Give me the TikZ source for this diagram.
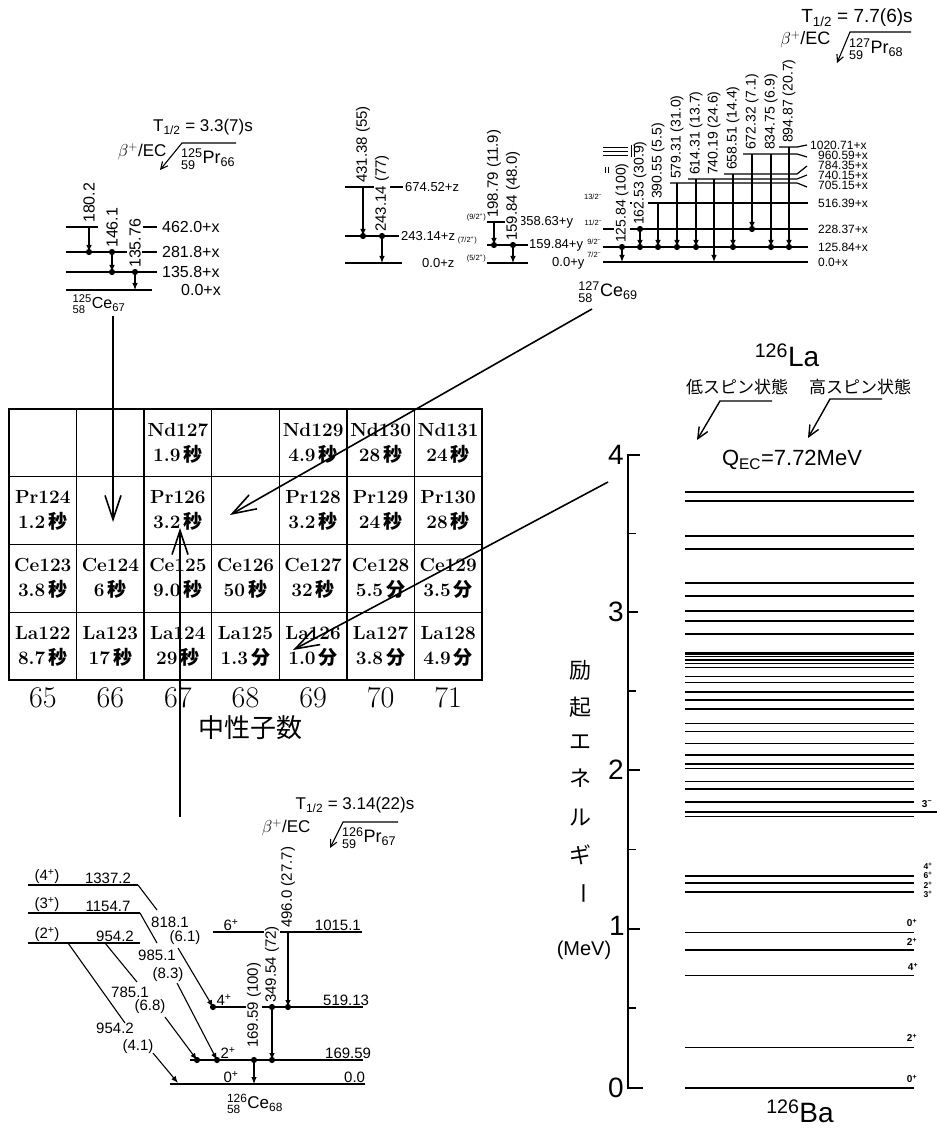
\documentclass[tikz,border=0pt]{standalone}
\usepackage{amsmath}
\usepackage{graphicx}
\usepackage{fontspec}
\usetikzlibrary{arrows.meta}
\newfontfamily\lsans{Liberation Sans}
\newfontfamily\jp{Noto Sans CJK JP}
\newcommand{\fs}[1]{\fontsize{#1}{#1}\selectfont}
\newcommand{\iso}[4]{$^{\text{#1}}_{\text{#2}}$#3$_{\text{#4}}$}
\newcommand{\byo}{{\jp 秒}}
\newcommand{\fun}{{\jp 分}}
\tikzset{
  lev/.style={line width=1.2pt},
  tr/.style={line width=1.1pt,-{Latex[length=7pt,width=5.5pt]}},
  pl/.style={line width=1.1pt},
  vlab/.style={rotate=90,anchor=west,fill=white,inner sep=1pt},
  bigarr/.style={line width=1.6pt,-{Straight Barb[length=24pt,width=16pt]}},
  hdarr/.style={line width=1.1pt,-{Straight Barb[length=7pt,width=7pt]}},
  laarr/.style={line width=1.4pt,-{Straight Barb[length=11pt,width=10pt]}},
  cell/.style={draw,line width=1.3pt,minimum width=67.57pt,minimum height=67.75pt,inner sep=0pt,align=center,font={\fontsize{19}{25}\selectfont\bfseries}},
  balev/.style={line width=1.5pt},
  bathick/.style={line width=2.6pt},
  spin/.style={font=\lsans\bfseries\fs{10},inner sep=0.5pt},
  spins/.style={font=\lsans\bfseries\fs{8.5},inner sep=0pt},
  rlab/.style={anchor=west,inner sep=0pt,font=\lsans\fs{12}},
}
\begin{document}
\begin{tikzpicture}[x=1pt,y=-1pt]
\useasboundingbox (0,0) rectangle (938,1131);
\fill[white] (0,0) rectangle (938,1131);

%================ 125Ce scheme =================
\node[font=\lsans\fs{17}] (h125t) at (203,127) {T$_{\text{1/2}}$ = 3.3(7)s};
\node[font=\lsans\fs{17},anchor=east] (h125b) at (170,152) {$\beta^{+}$/EC};
\coordinate (h125e) at (236,143); \coordinate (h125c) at (182,143); \coordinate (h125tip) at (160,170);
\draw[hdarr] (h125e) -- (h125c) -- (h125tip);
\node[font=\lsans\fs{18},anchor=west,inner sep=0pt] (h125p) at (181,159) {\iso{125}{59}{Pr}{66}};
\begin{scope}[font=\lsans\fs{16}]
\draw[lev] (66,227) -- (98,227) (143,227) -- (157,227);
\draw[lev] (66,252) -- (127,252) (142,252) -- (157,252);
\draw[lev] (66,272) -- (157,272);
\draw[lev] (66,290) -- (152,290);
\node[anchor=west,inner sep=1pt] (c125a) at (161,227) {462.0+x};
\node[anchor=west,inner sep=1pt] (c125b) at (161,252) {281.8+x};
\node[anchor=west,inner sep=1pt] (c125c) at (161,272) {135.8+x};
\node[anchor=west,inner sep=1pt] (c125d) at (180,290) {0.0+x};
\draw[tr] (89,227) -- (89,252);
\draw[tr] (112,252) -- (112,272);
\draw[tr] (135,272) -- (135,290);
\fill (89,252) circle (3.1pt) (112,252) circle (3.1pt) (112,272) circle (3.1pt) (135,272) circle (3.1pt);
\node[vlab] (g1802) at (89,224) {180.2};
\node[vlab] (g1461) at (112,249) {146.1};
\node[vlab] (g1357) at (135,269) {135.76};
\node[inner sep=0pt] (ce125) at (99,304) {\iso{125}{58}{Ce}{67}};
\end{scope}

%================ 127Ce scheme (z and y) =================
\begin{scope}[font=\lsans\fs{13}]
\draw[lev] (345,187) -- (403,187);
\draw[lev] (345,236) -- (399,236);
\draw[lev] (345,263) -- (402,263);
\node[anchor=west,inner sep=1pt] (z674) at (404,187) {674.52+z};
\node[anchor=west,inner sep=1pt] (z243) at (400,236) {243.14+z};
\node[anchor=west,inner sep=1pt] (z0) at (421,263) {0.0+z};
\draw[tr] (363,187) -- (363,236);
\draw[tr] (382,236) -- (382,263);
\fill (363,236) circle (3.1pt) (382,236) circle (3.1pt);
\node[vlab,font=\lsans\fs{15}] (g431) at (363,184) {431.38 (55)};
\node[vlab,font=\lsans\fs{15}] (g243) at (382,233) {243.14 (77)};
\draw[lev] (487,222) -- (518,222);
\draw[lev] (487,245) -- (528,245);
\draw[lev] (487,263) -- (528,263);
\node[anchor=west,inner sep=1pt] (y358) at (518,222) {358.63+y};
\node[anchor=west,inner sep=1pt] (y159) at (528,245) {159.84+y};
\node[anchor=west,inner sep=1pt] (y0) at (551,263) {0.0+y};
\node[anchor=east,font=\lsans\fs{7.5},inner sep=1pt] (s92) at (487,217) {(9/2\textsuperscript{+})};
\node[anchor=east,font=\lsans\fs{7.5},inner sep=1pt] (s72) at (478,240) {(7/2\textsuperscript{+})};
\node[anchor=east,font=\lsans\fs{7.5},inner sep=1pt] (s52) at (487,258) {(5/2\textsuperscript{+})};
\draw[tr] (494,222) -- (494,245);
\draw[tr] (513,245) -- (513,263);
\fill (494,245) circle (3.1pt) (513,245) circle (3.1pt);
\node[vlab,font=\lsans\fs{15}] (g198) at (494,219) {198.79 (11.9)};
\node[vlab,font=\lsans\fs{15}] (g159) at (513,242) {159.84 (48.0)};
\end{scope}

%================ 127Ce scheme (x) =================
\node[font=\lsans\fs{19}] (h127t) at (857,18) {T$_{\text{1/2}}$ = 7.7(6)s};
\node[font=\lsans\fs{18},anchor=east] (h127b) at (834,40) {$\beta^{+}$/EC};
\coordinate (h127e) at (911,32); \coordinate (h127c) at (850,32); \coordinate (h127tip) at (837,63);
\draw[hdarr] (h127e) -- (h127c) -- (h127tip);
\node[font=\lsans\fs{18},anchor=west,inner sep=0pt] (h127p) at (849,49) {\iso{127}{59}{Pr}{68}};
\begin{scope}[font=\lsans\fs{13}]
\draw[lev] (603,262) -- (808,262);
\draw[lev] (603,247) -- (808,247);
\draw[lev] (603,229) -- (808,229);
\draw[lev] (625,203) -- (808,203);
\draw[lev] (670,183) -- (797,183) -- (807,187);
\draw[lev] (688,179) -- (797,179) -- (807,175);
\draw[lev] (724,174) -- (797,174) -- (807,166);
\draw[lev] (743,154) -- (797,154) -- (807,157);
\draw[lev] (778,147) -- (797,147) -- (807,145);
\node[rlab] (x0) at (818,262) {0.0+x};
\node[rlab] (x125) at (818,247) {125.84+x};
\node[rlab] (x228) at (818,229) {228.37+x};
\node[rlab] (x516) at (818,203) {516.39+x};
\node[rlab] (x705) at (818,185) {705.15+x};
\node[rlab] (x740) at (818,175) {740.15+x};
\node[rlab] (x784) at (818,165) {784.35+x};
\node[rlab] (x960) at (818,155) {960.59+x};
\node[rlab] (x1020) at (810,145) {1020.71+x};
\foreach \x/\ya/\yb in {622/247/262, 640/229/247, 658/203/247, 677/183/247, 696/179/247, 714/179/262, 733/174/247, 752/154/229, 771/154/247, 789/147/247}
  \draw[tr] (\x,\ya) -- (\x,\yb);
\foreach \p in {(622,247),(640,229),(640,247),(658,247),(677,247),(696,247),(733,247),(752,229),(771,247),(789,247)}
  \fill \p circle (3.1pt);
\foreach \x/\y/\t [count=\i] in {622/244/{125.84 (100)}, 640/226/{162.53 (30.9)}, 658/200/{390.55 (5.5)}, 677/180/{579.31 (31.0)}, 696/176/{614.31 (13.7)}, 714/176/{740.19 (24.6)}, 733/171/{658.51 (14.4)}, 752/151/{672.32 (7.1)}, 771/151/{834.75 (6.9)}, 789/144/{894.87 (20.7)}}
  \node[vlab,font=\lsans\fs{14}] (xg\i) at (\x,\y) {\t};
\node[anchor=east,font=\lsans\fs{7.5},inner sep=0.5pt] (s132) at (603,197) {13/2\textsuperscript{−}};
\node[anchor=east,font=\lsans\fs{7.5},inner sep=0.5pt] (s112) at (603,223) {11/2\textsuperscript{−}};
\node[anchor=east,font=\lsans\fs{7.5},inner sep=0.5pt] (s92m) at (602,242) {9/2\textsuperscript{−}};
\node[anchor=east,font=\lsans\fs{7.5},inner sep=0.5pt] (s72m) at (602,255) {7/2\textsuperscript{−}};
\draw[line width=0.9pt] (603,147.5) -- (628,147.5) (603,151.5) -- (628,151.5) (603,155.5) -- (628,155.5);
\draw[line width=0.9pt] (631,145) -- (631,157) (634,145) -- (634,157);
\draw[line width=0.9pt] (605,167) -- (605,173) (608,167) -- (608,173);
\end{scope}
\node[font=\lsans\fs{18},inner sep=0pt] (ce127) at (608,292) {\iso{127}{58}{Ce}{69}};

%================ chart of nuclides =================
\node[cell] (c00) at (42.8,442.9) {};
\node[cell] (c01) at (110.4,442.9) {};
\node[cell] (nd127) at (177.9,442.9) {Nd127\\1.9\,\byo};
\node[cell] (c03) at (245.5,442.9) {};
\node[cell] (nd129) at (313.1,442.9) {Nd129\\4.9\,\byo};
\node[cell] (nd130) at (380.6,442.9) {Nd130\\28\,\byo};
\node[cell] (nd131) at (448.2,442.9) {Nd131\\24\,\byo};
\node[cell] (pr124) at (42.8,510.6) {Pr124\\1.2\,\byo};
\node[cell] (c11) at (110.4,510.6) {};
\node[cell] (pr126) at (177.9,510.6) {Pr126\\3.2\,\byo};
\node[cell] (c13) at (245.5,510.6) {};
\node[cell] (pr128) at (313.1,510.6) {Pr128\\3.2\,\byo};
\node[cell] (pr129) at (380.6,510.6) {Pr129\\24\,\byo};
\node[cell] (pr130) at (448.2,510.6) {Pr130\\28\,\byo};
\node[cell] (ce123) at (42.8,578.4) {Ce123\\3.8\,\byo};
\node[cell] (ce124) at (110.4,578.4) {Ce124\\6\,\byo};
\node[cell] (ce125c) at (177.9,578.4) {Ce125\\9.0\,\byo};
\node[cell] (ce126c) at (245.5,578.4) {Ce126\\50\,\byo};
\node[cell] (ce127c) at (313.1,578.4) {Ce127\\32\,\byo};
\node[cell] (ce128) at (380.6,578.4) {Ce128\\5.5\,\fun};
\node[cell] (ce129) at (448.2,578.4) {Ce129\\3.5\,\fun};
\node[cell] (la122) at (42.8,646.1) {La122\\8.7\,\byo};
\node[cell] (la123) at (110.4,646.1) {La123\\17\,\byo};
\node[cell] (la124) at (177.9,646.1) {La124\\29\,\byo};
\node[cell] (la125) at (245.5,646.1) {La125\\1.3\,\fun};
\node[cell] (la126) at (313.1,646.1) {La126\\1.0\,\fun};
\node[cell] (la127) at (380.6,646.1) {La127\\3.8\,\fun};
\node[cell] (la128) at (448.2,646.1) {La128\\4.9\,\fun};
\foreach \x/\n in {42.8/65,110.4/66,177.9/67,245.5/68,313.1/69,380.6/70,448.2/71}
  \node[font=\fs{30}] (n\n) at (\x,698) {\n};
\node[font=\jp\fs{26}] (nlabel) at (250,728) {中性子数};

%================ big arrows =================
\coordinate (a1s) at (113,316); \coordinate (a1e) at (113,522);
\draw[bigarr] (a1s) -- (a1e);
\coordinate (a2s) at (592,309); \coordinate (a2e) at (230,515);
\draw[bigarr] (a2s) -- (a2e);
\coordinate (a3s) at (608,482); \coordinate (a3e) at (293,650);
\draw[bigarr] (a3s) -- (a3e);
\coordinate (a4s) at (180,817); \coordinate (a4e) at (180,528);
\draw[bigarr] (a4s) -- (a4e);

%================ 126Ce scheme =================
\node[font=\lsans\fs{17}] (h126t) at (355,805) {T$_{\text{1/2}}$ = 3.14(22)s};
\node[font=\lsans\fs{17},anchor=east] (h126b) at (314,828) {$\beta^{+}$/EC};
\coordinate (h126e) at (398,822); \coordinate (h126c) at (343,822); \coordinate (h126tip) at (330,848);
\draw[hdarr] (h126e) -- (h126c) -- (h126tip);
\node[font=\lsans\fs{18},anchor=west,inner sep=0pt] (h126p) at (342,838) {\iso{126}{59}{Pr}{67}};
\begin{scope}[font=\lsans\fs{15}]
\draw[lev] (28,885) -- (138,885);
\draw[lev] (28,913) -- (140,913);
\draw[lev] (28,943) -- (140,943);
\draw[lev] (213,932) -- (362,932);
\draw[lev] (213,1007) -- (363,1007);
\draw[lev] (190,1060) -- (363,1060);
\draw[lev] (170,1084) -- (365,1084);
\node[anchor=south,inner sep=1pt] (sp4) at (47,885) {(4\textsuperscript{+})};
\node[anchor=south,inner sep=1pt] (e1337) at (108,885) {1337.2};
\node[anchor=south,inner sep=1pt] (sp3) at (47,913) {(3\textsuperscript{+})};
\node[anchor=south,inner sep=1pt] (e1154) at (108,913) {1154.7};
\node[anchor=south,inner sep=1pt] (sp2) at (47,943) {(2\textsuperscript{+})};
\node[anchor=south,inner sep=1pt] (e954) at (115,943) {954.2};
\node[anchor=south,inner sep=1pt] (s6p) at (231,932) {6\textsuperscript{+}};
\node[anchor=south east,inner sep=1pt] (e1015) at (362,932) {1015.1};
\node[anchor=south,inner sep=1pt] (s4p) at (224,1007) {4\textsuperscript{+}};
\node[anchor=south west,inner sep=1pt] (e519) at (322,1007) {519.13};
\node[anchor=south,inner sep=1pt] (s2p) at (228,1060) {2\textsuperscript{+}};
\node[anchor=south west,inner sep=1pt] (e169) at (324,1060) {169.59};
\node[anchor=south,inner sep=1pt] (s0p) at (231,1084) {0\textsuperscript{+}};
\node[anchor=south west,inner sep=1pt] (e0) at (343,1084) {0.0};
% diagonal transitions
\draw[pl] (138,885) -- (157,910);
\node[inner sep=1pt] (t818a) at (170,922) {818.1};
\node[inner sep=1pt] (t818b) at (185,938) {(6.1)};
\draw[tr] (178,948) -- (213,1007);
\draw[pl] (140,913) -- (157,943);
\node[inner sep=1pt] (t985a) at (157,955) {985.1};
\node[inner sep=1pt] (t985b) at (168,975) {(8.3)};
\draw[tr] (177,983) -- (217,1060);
\draw[pl] (105,943) -- (137,982);
\node[inner sep=1pt] (t785a) at (130,992) {785.1};
\node[inner sep=1pt] (t785b) at (150,1007) {(6.8)};
\draw[tr] (165,1017) -- (197,1060);
\draw[pl] (68,943) -- (125,1023);
\node[inner sep=1pt] (t954a) at (115,1028) {954.2};
\node[inner sep=1pt] (t954b) at (138,1047) {(4.1)};
\draw[tr] (153,1053) -- (178,1083);
% vertical transitions
\draw[tr] (254,1060) -- (254,1084);
\draw[tr] (272,1007) -- (272,1060);
\draw[tr] (288,932) -- (288,1007);
\fill (213,1007) circle (3.1pt) (197,1060) circle (3.1pt) (217,1060) circle (3.1pt) (254,1060) circle (3.1pt) (272,1007) circle (3.1pt) (272,1060) circle (3.1pt) (288,1007) circle (3.1pt);
\node[vlab] (g169) at (254,1049) {169.59 (100)};
\node[vlab] (g349) at (272,1004) {349.54 (72)};
\node[vlab] (g496) at (288,929) {496.0 (27.7)};
\node[font=\lsans\fs{17},inner sep=0pt] (ce126) at (255,1104) {\iso{126}{58}{Ce}{68}};
\end{scope}

%================ 126Ba levels =================
\node[font=\lsans\fs{28}] (la126t) at (787,355) {$^{\text{126}}$La};
\node[font=\jp\fs{17}] (lowsp) at (737,387) {低スピン状態};
\node[font=\jp\fs{17}] (highsp) at (860,387) {高スピン状態};
\coordinate (lo1) at (772,401); \coordinate (lo2) at (720,401); \coordinate (lo3) at (697,440);
\draw[laarr] (lo1) -- (lo2) -- (lo3);
\coordinate (hi1) at (882,399); \coordinate (hi2) at (830,399); \coordinate (hi3) at (808,438);
\draw[laarr] (hi1) -- (hi2) -- (hi3);
\node[font=\lsans\fs{22}] (qec) at (792,460) {Q$_{\text{EC}}$=7.72MeV};
% axis
\draw[line width=1.6pt] (640,455) -- (628,455) -- (628,1088) -- (643,1088);
\draw[line width=1.4pt] (628,533.5) -- (636,533.5) (628,612) -- (638,612) (628,691) -- (636,691) (628,770) -- (640,770) (628,849.5) -- (636,849.5) (628,929) -- (640,929) (628,1008) -- (636,1008);
\node[font=\lsans\fs{28},anchor=east,inner sep=0pt] (ax4) at (624,455) {4};
\node[font=\lsans\fs{28},anchor=east,inner sep=0pt] (ax3) at (624,612) {3};
\node[font=\lsans\fs{28},anchor=east,inner sep=0pt] (ax2) at (624,770) {2};
\node[font=\lsans\fs{28},anchor=east,inner sep=0pt] (ax1) at (625,926) {1};
\node[font=\lsans\fs{28},anchor=east,inner sep=0pt] (ax0) at (624,1088) {0};
\foreach \c/\y [count=\i] in {励/670,起/707,エ/742,ネ/778,ル/818,ギ/855}
  \node[font=\jp\fs{22}] (yl\i) at (580,\y) {\c};
\node[font=\jp\fs{22},rotate=-90] (yl7) at (580,893) {ー};
\node[font=\lsans\fs{20}] (mev) at (584,950) {(MeV)};
\foreach \y in {492,501,536,549,583,596,611,621,634,656.5,660,663.5,667.5,676.5,682.5,700,723.5,731.5,743.5,764,768.5,781.5,802,816.5,883,892,932.5,950,975.5,1047.5}
  \draw[balev] (685,\y) -- (914,\y);
\foreach \y in {653.5,692,709,755,789,876}
  \draw[bathick] (685,\y) -- (914,\y);
\draw[balev] (685,812) -- (937,812);
\draw[line width=2.2pt] (685,1088) -- (914,1088);
\node[spin] (b3m) at (927,804) {3\textsuperscript{−}};
\node[spins] (b4a) at (928,866) {4\textsuperscript{+}};
\node[spins] (b6) at (928,875.5) {6\textsuperscript{+}};
\node[spins] (b2a) at (928,885) {2\textsuperscript{+}};
\node[spins] (b3p) at (928,894.5) {3\textsuperscript{+}};
\node[spin] (b0a) at (912,923) {0\textsuperscript{+}};
\node[spin] (b2b) at (912,942) {2\textsuperscript{+}};
\node[spin] (b4b) at (913,967) {4\textsuperscript{+}};
\node[spin] (b2c) at (912,1038) {2\textsuperscript{+}};
\node[spin] (b0b) at (912,1079) {0\textsuperscript{+}};
\node[font=\lsans\fs{28}] (ba126) at (800,1111) {$^{\text{126}}$Ba};
\end{tikzpicture}
\end{document}
